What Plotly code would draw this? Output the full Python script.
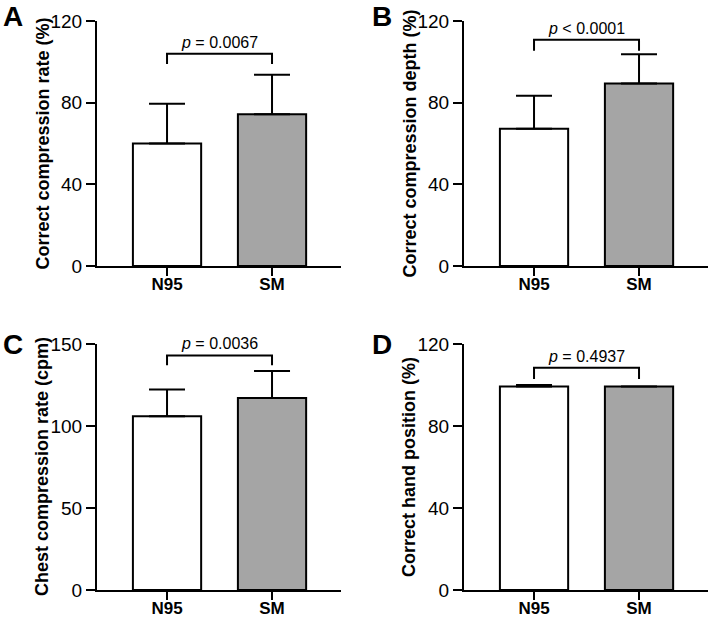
import plotly.graph_objects as go

groups = ["N95", "SM"]
panel_letters = ["A", "B", "C", "D"]
y_titles = ["Correct compression rate (%)", "Correct compression depth (%)",
            "Chest compression rate (cpm)", "Correct hand position (%)"]
means_A = [60.0, 74.3]
sd_A = [19.5, 19.4]
means_B = [67.2, 89.4]
sd_B = [16.2, 14.3]
means_C = [106.0, 117.0]
sd_C = [16.3, 16.5]
means_D = [99.3, 99.3]
sd_D = [0.7, 0.0]
p_texts = ["<i>p</i> = 0.0067", "<i>p</i> < 0.0001", "<i>p</i> = 0.0036", "<i>p</i> = 0.4937"]
bracket_top = [104.0, 110.8, 143.0, 108.4]
bracket_leg = [99.0, 105.4, 137.0, 102.9]
y_max = [120, 120, 150, 120]
y_dtick = [40, 40, 50, 40]

means = [means_A, means_B, means_C, means_D]
sds = [sd_A, sd_B, sd_C, sd_D]
bar_colors = ["#ffffff", "#a5a5a5"]

W, H = 711, 619
# pixel boxes (window coordinates) for each panel (left, right, top, bottom)
boxes = [(97, 341, 21, 266), (464, 708, 21, 266), (97, 341, 344, 590), (464, 708, 344, 590)]
letter_pos = [(13, 17), (382, 17), (13, 344), (382, 344)]
title_x = [42, 409, 42, 409]

def fx(px):
    return px / W

def fy(py):
    return 1 - py / H

FONT = "Liberation Sans, Arial, Helvetica, sans-serif"
fig = go.Figure()
layout = dict(width=W, height=H, margin=dict(l=0, r=0, t=0, b=0, autoexpand=False),
              paper_bgcolor="white", plot_bgcolor="white", showlegend=False,
              font=dict(family=FONT, color="black"))
shapes = []
annotations = []

for i in range(4):
    xa = "x" if i == 0 else f"x{i+1}"
    ya = "y" if i == 0 else f"y{i+1}"
    l, r, t, b = boxes[i]
    fig.add_trace(go.Bar(
        x=[0, 1], y=means[i], xaxis=xa, yaxis=ya, width=0.65,
        marker=dict(color=bar_colors, line=dict(color="black", width=2)),
        error_y=dict(type="data", symmetric=False, array=sds[i], arrayminus=[0, 0],
                     color="black", thickness=2, width=18),
    ))
    xkey = "xaxis" if i == 0 else f"xaxis{i+1}"
    ykey = "yaxis" if i == 0 else f"yaxis{i+1}"
    layout[xkey] = dict(domain=[fx(l), fx(r)], anchor=ya, range=[-0.667, 1.657],
                        tickvals=[0, 1], ticktext=[f"<b>{g}</b>" for g in groups],
                        showline=True, linecolor="black", linewidth=2,
                        ticks="outside", ticklen=8, tickwidth=2, tickcolor="black",
                        showgrid=False, zeroline=False, automargin=False,
                        ticklabelstandoff=-6,
                        tickfont=dict(size=17, family=FONT, color="black"))
    layout[ykey] = dict(domain=[fy(b), fy(t)], anchor=xa, range=[0, y_max[i]],
                        dtick=y_dtick[i], tick0=0,
                        showline=True, linecolor="black", linewidth=2,
                        ticks="outside", ticklen=9, tickwidth=2, tickcolor="black",
                        showgrid=False, zeroline=False, automargin=False,
                        tickfont=dict(size=19, family=FONT, color="black"))
    # y-axis title
    annotations.append(dict(x=fx(title_x[i]), y=fy((t + b) / 2), xref="paper", yref="paper",
                            text=f"<b>{y_titles[i]}</b>", textangle=-90, showarrow=False,
                            xanchor="center", yanchor="middle",
                            font=dict(size=18, family=FONT, color="black")))
    # significance bracket
    shapes.append(dict(type="path", xref=xa, yref=ya,
                       path=f"M 0 {bracket_leg[i]} L 0 {bracket_top[i]} L 1 {bracket_top[i]} L 1 {bracket_leg[i]}",
                       line=dict(color="black", width=2)))
    annotations.append(dict(x=0.5, y=bracket_top[i], xref=xa, yref=ya, text=p_texts[i],
                            showarrow=False, yanchor="bottom", yshift=1,
                            font=dict(size=16, family=FONT, color="black")))
    lx, ly = letter_pos[i]
    annotations.append(dict(x=fx(lx), y=fy(ly), xref="paper", yref="paper",
                            text=f"<b>{panel_letters[i]}</b>", showarrow=False,
                            xanchor="center", yanchor="middle",
                            font=dict(size=28, family=FONT, color="black")))

layout["shapes"] = shapes
layout["annotations"] = annotations
fig.update_layout(**layout)
fig.write_html("out.html", config={"displayModeBar": False},
               post_script="document.body.style.margin='0px';document.body.style.overflow='hidden';")
